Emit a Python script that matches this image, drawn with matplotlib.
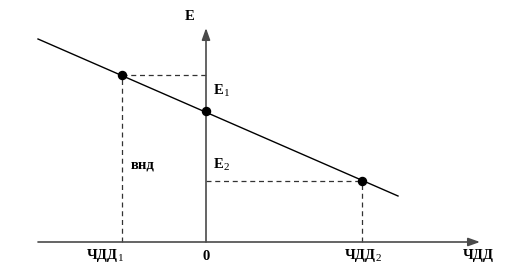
import matplotlib
matplotlib.use("Agg")
import matplotlib.pyplot as plt

# Schematic data (units: arbitrary, origin at axes crossing)
line_x = [-168, 192]
line_y = [203, 46]
point_x = [-84, 0, 156]          # ЧДД1, 0, ЧДД2
point_y = [167, 131, 61]         # on the line
x_tick_labels = [("ЧДД", "1"), ("0", ""), ("ЧДД", "2")]
x_tick_label_pos = [-104, 0, 154]
x_axis_label = "ЧДД"
y_axis_label = "Е"

fig = plt.figure(figsize=(5.2, 2.8), dpi=100)
ax = fig.add_axes([0, 0, 1, 1])
ax.set_xlim(-206, 314)
ax.set_ylim(-38, 242)
ax.axis("off")

fam = ["Liberation Serif", "DejaVu Serif"]
axis_col = "#4a4a4a"
fs = 10.5
sub_fs = 8


def label(x, y, main, sub="", ha="center"):
    t = ax.text(x, y, main, ha=ha, va="center", fontsize=fs,
                fontweight="bold", family=fam)
    if sub:
        ax.annotate(sub, xy=(1.0, 0.0), xycoords=t, xytext=(0.1, -0.5),
                    textcoords="offset points", ha="left", va="bottom",
                    fontsize=sub_fs, family=fam)
    return t


# axes with arrows
ax.annotate("", xy=(274, 0), xytext=(-168, 0),
            arrowprops=dict(arrowstyle="-|>,head_length=0.7,head_width=0.25",
                            color=axis_col, lw=1.2, shrinkA=0, shrinkB=0))
ax.annotate("", xy=(0, 214), xytext=(0, 0),
            arrowprops=dict(arrowstyle="-|>,head_length=0.7,head_width=0.25",
                            color=axis_col, lw=1.2, shrinkA=0, shrinkB=0))

# main line
ax.plot(line_x, line_y, color="black", lw=1.0)

# dashed guides
dash = dict(color="#333333", lw=0.9, ls=(0, (4, 3)))
ax.plot([point_x[0], point_x[0]], [0, point_y[0]], **dash)
ax.plot([point_x[0], 0], [point_y[0], point_y[0]], **dash)
ax.plot([point_x[2], point_x[2]], [0, point_y[2]], **dash)
ax.plot([0, point_x[2]], [point_y[2], point_y[2]], **dash)

# points
ax.plot(point_x, point_y, "o", color="black", ms=5.8, zorder=5)

# tick labels
for xv, (main, sub) in zip(x_tick_label_pos, x_tick_labels):
    label(xv, -14, main, sub)
label(272, -14, x_axis_label)
label(-16, 226, y_axis_label)
label(8, 151, "Е", "1", ha="left")
label(8, 77, "Е", "2", ha="left")
label(-63, 77, "внд")

fig.savefig("out.png", dpi=100, facecolor="white")
